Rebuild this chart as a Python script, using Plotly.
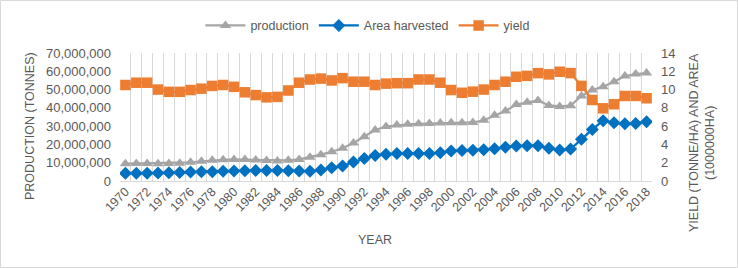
import plotly.graph_objects as go

years = list(range(1970, 2019))

production = [9.5, 9.6, 9.6, 9.5, 9.6, 9.7, 10.2, 10.8, 11.3, 11.6,
              11.8, 11.7, 11.5, 11.2, 11.0, 11.3, 11.8, 13.0, 14.4, 16.0,
              17.9, 20.8, 24.2, 27.9, 29.8, 30.6, 31.0, 31.3, 31.5, 31.7,
              31.8, 31.9, 32.0, 33.2, 35.9, 38.3, 41.8, 43.0, 44.0, 41.3,
              40.8, 41.2, 46.5, 49.8, 51.6, 54.3, 57.4, 58.5, 59.0]
production = [v * 1_000_000 for v in production]

area_harvested = [4.2, 4.2, 4.3, 4.4, 4.5, 4.7, 4.9, 5.0, 5.1, 5.3,
                  5.5, 5.6, 5.8, 5.8, 5.8, 5.6, 5.5, 5.3, 6.0, 7.3,
                  8.2, 10.4, 12.3, 14.0, 14.6, 15.0, 15.0, 15.0, 15.0, 15.4,
                  16.4, 16.7, 16.8, 17.1, 17.7, 18.5, 19.1, 19.3, 19.3, 17.9,
                  17.0, 17.5, 22.8, 28.2, 33.0, 31.8, 31.3, 31.5, 32.4]
area_harvested = [v * 1_000_000 for v in area_harvested]

yield_vals = [10.5, 10.75, 10.75, 10.0, 9.75, 9.75, 9.95, 10.1, 10.4, 10.5,
              10.3, 9.7, 9.4, 9.15, 9.2, 9.9, 10.75, 11.1, 11.2, 11.0,
              11.25, 10.86, 10.86, 10.5, 10.65, 10.7, 10.7, 11.1, 11.1, 10.75,
              9.95, 9.65, 9.77, 10.0, 10.5, 10.86, 11.4, 11.5, 11.8, 11.66,
              11.95, 11.8, 10.4, 8.86, 7.95, 8.4, 9.3, 9.3, 9.05]

x_ticks = list(range(1970, 2019, 2))
left_ticks = [0, 10_000_000, 20_000_000, 30_000_000, 40_000_000, 50_000_000, 60_000_000, 70_000_000]
right_ticks = [0, 2, 4, 6, 8, 10, 12, 14]

FONT = "Liberation Sans"
TXT = "#595959"
GRID = "#d9d9d9"

fig = go.Figure()
fig.add_trace(go.Scatter(
    x=years, y=production, name="production", mode="lines+markers",
    line=dict(color="#A5A5A5", width=2.25),
    marker=dict(symbol="triangle-up", size=10, color="#A5A5A5"),
))
fig.add_trace(go.Scatter(
    x=years, y=area_harvested, name="Area harvested", mode="lines+markers",
    line=dict(color="#0070C0", width=2.25),
    marker=dict(symbol="diamond", size=10, color="#0070C0"),
))
fig.add_trace(go.Scatter(
    x=years, y=yield_vals, name="yield", mode="lines+markers", yaxis="y2",
    line=dict(color="#ED7D31", width=2.25),
    marker=dict(symbol="square", size=10.5, color="#ED7D31"),
))
# helper trace carrying the labelled year axis
fig.add_trace(go.Scatter(x=years, y=[None] * len(years), xaxis="x2", yaxis="y",
                         showlegend=False, hoverinfo="skip", mode="lines"))

x_range = [1969.5, 2018.5]
PW, PH = 532, 128  # plot area size in px

fig.update_layout(
    width=738, height=268,
    margin=dict(l=120, r=86, t=53, b=87, autoexpand=False),
    paper_bgcolor="white", plot_bgcolor="white",
    font=dict(family=FONT, size=12, color=TXT),
    showlegend=True,
    legend=dict(orientation="h", x=0.465, xanchor="center", y=1.33, yanchor="top",
                font=dict(size=12.5, color=TXT), itemwidth=40,
                traceorder="normal"),
    # grid axis (category boundaries)
    xaxis=dict(
        range=x_range, tickmode="linear", tick0=1969.5, dtick=1,
        showgrid=True, gridcolor=GRID, gridwidth=1, showticklabels=False,
        zeroline=False, automargin=False,
        showline=True, linecolor=GRID, linewidth=1, ticks="",
    ),
    # labelled year axis
    xaxis2=dict(
        range=x_range, overlaying="x", side="bottom", anchor="y",
        tickmode="array", tickvals=x_ticks,
        ticktext=[str(t) for t in x_ticks], tickangle=-45,
        showgrid=False, zeroline=False, showline=False, ticks="", automargin=False,
        tickfont=dict(size=12.5, color=TXT),
    ),
    yaxis=dict(
        range=[0, 70_000_000], tickmode="array", tickvals=left_ticks,
        tickformat=",d", showgrid=False, zeroline=False, showline=False,
        automargin=False, ticklabelstandoff=8,
        tickfont=dict(size=13, color=TXT),
    ),
    yaxis2=dict(
        range=[0, 14], tickmode="array", tickvals=right_ticks,
        overlaying="y", side="right", showgrid=False, zeroline=False, showline=False,
        automargin=False, ticklabelstandoff=8,
        tickfont=dict(size=13, color=TXT),
    ),
    annotations=[
        dict(text="YEAR", xref="paper", yref="paper",
             x=(375 - 120) / PW, y=-(240 - 181) / PH, showarrow=False,
             xanchor="center", yanchor="middle", font=dict(size=12.5, color=TXT)),
        dict(text="PRODUCTION (TONNES)", xref="paper", yref="paper", textangle=-90,
             x=-(120 - 30) / PW, y=(181 - 126) / PH, showarrow=False,
             xanchor="center", yanchor="middle", font=dict(size=12.5, color=TXT)),
        dict(text="YIELD (TONNE/HA) AND AREA<br>(1000000HA)", xref="paper", yref="paper",
             textangle=-90, x=(702 - 120) / PW, y=(181 - 143) / PH, showarrow=False,
             xanchor="center", yanchor="middle", font=dict(size=12.5, color=TXT)),
    ],
    shapes=[dict(type="rect", xref="paper", yref="paper",
                 x0=-119.5 / PW, x1=1 + 85.5 / PW,
                 y0=-86.5 / PH, y1=1 + 52.5 / PH,
                 line=dict(color=GRID, width=1), fillcolor="rgba(0,0,0,0)", layer="below")],
)

fig.write_html("out.html", config={"displayModeBar": False},
               post_script="document.body.style.margin='0px';")
